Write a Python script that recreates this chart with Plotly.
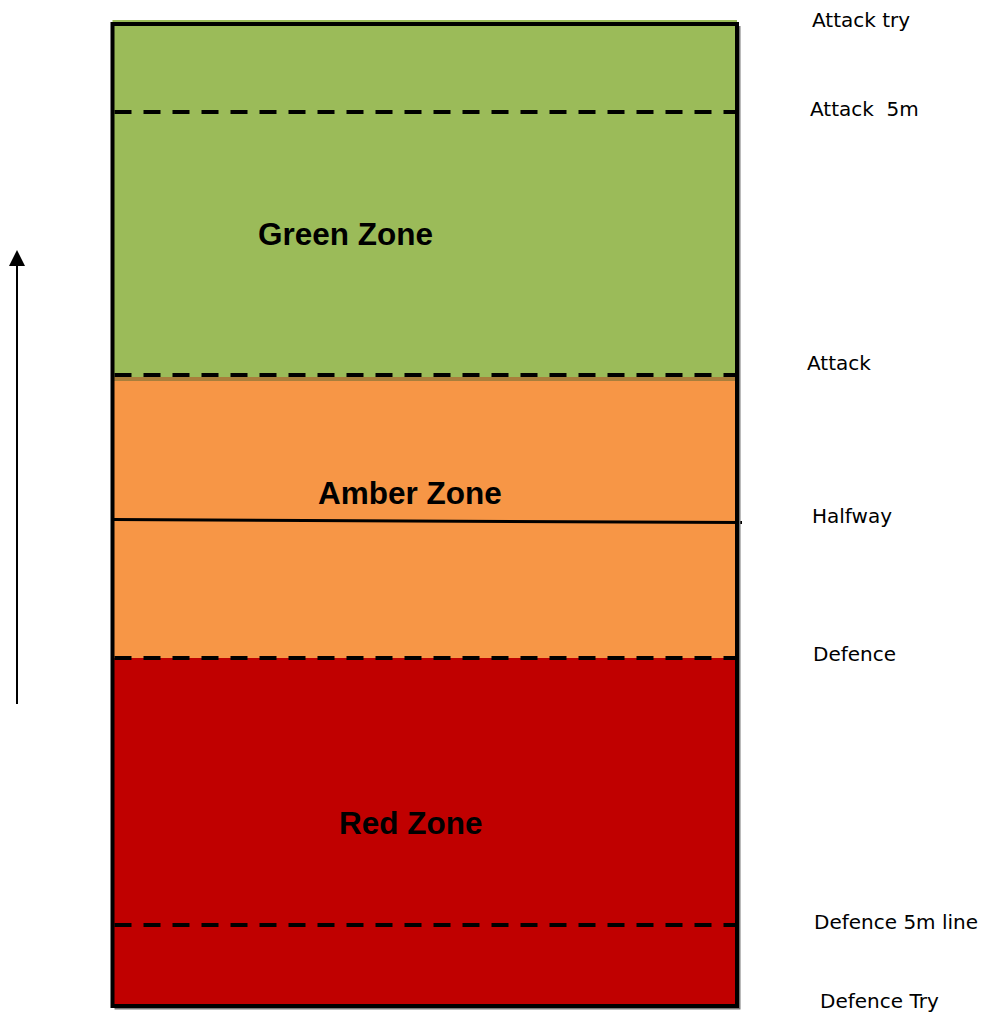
import plotly.graph_objects as go

# ---- data (schematic field positions, diagram units measured up from the defence try line) ----
line_names = ["Defence Try", "Defence 5m line", "Defence", "Halfway", "Attack", "Attack  5m", "Attack try"]
line_pos = [0, 81, 348, 485, 631, 894, 982]
line_style = ["solid", "dash", "dash", "solid", "dash", "dash", "solid"]

zone_names = ["Red Zone", "Amber Zone", "Green Zone"]
zone_bottom = [0, 348, 625]
zone_top = [348, 629, 986]
zone_colors = ["#C00000", "#F79646", "#9BBB59"]

# ---- layout constants ----
PAGE_MARGIN = 8                # default body margin of the html page
W, H = 987 - PAGE_MARGIN, 1015 - PAGE_MARGIN
FX0, FX1 = 112.5, 737          # field side lines
label_x = [818, 812, 811, 810, 805, 808, 810]
label_shift = [5, 3, 4, 5, 12, 3, 4]
zone_label_x = [411, 410, 345]
zone_label_y = [183, 513, 772]
arrow_x, arrow_from, arrow_to = 17, 302, 756
head_w, head_h = 16, 16

fig = go.Figure()
shapes = []

# zone fills
for b, t, c in zip(zone_bottom, zone_top, zone_colors):
    shapes.append(dict(type="rect", xref="x", yref="y", x0=FX0, x1=FX1, y0=b, y1=t,
                       fillcolor=c, line=dict(width=0), layer="below"))
# overlap strip between green and amber
shapes.append(dict(type="line", xref="x", yref="y", x0=FX0, x1=FX1,
                   y0=(zone_bottom[2] + zone_top[1]) / 2, y1=(zone_bottom[2] + zone_top[1]) / 2,
                   line=dict(color="#A97E3B", width=4)))

# field lines
for name, p, st in zip(line_names, line_pos, line_style):
    if st == "dash":
        shapes.append(dict(type="line", xref="x", yref="y", x0=FX0 + 2, x1=FX1 - 1, y0=p, y1=p,
                           line=dict(color="black", width=4, dash="17px,12px")))
    elif name == "Halfway":
        shapes.append(dict(type="line", xref="x", yref="y", x0=FX0, x1=FX1 + 5, y0=p + 1.5, y1=p - 1.5,
                           line=dict(color="black", width=3)))

# shadow (right and bottom) + border
shapes.append(dict(type="path", xref="x", yref="y",
                   path=f"M {FX1 + 2},{line_pos[-1] - 2} L {FX1 + 2},{line_pos[0] - 2} L {FX0 + 2},{line_pos[0] - 2}",
                   line=dict(color="#777777", width=3)))
shapes.append(dict(type="rect", xref="x", yref="y", x0=FX0, x1=FX1,
                   y0=line_pos[0], y1=line_pos[-1],
                   line=dict(color="black", width=4)))

# arrow shaft + head
shapes.append(dict(type="line", xref="x", yref="y", x0=arrow_x, x1=arrow_x,
                   y0=arrow_from, y1=arrow_to - head_h + 1, line=dict(color="black", width=2)))
shapes.append(dict(type="path", xref="x", yref="y",
                   path=f"M {arrow_x - head_w/2},{arrow_to - head_h} L {arrow_x + head_w/2},{arrow_to - head_h} L {arrow_x},{arrow_to} Z",
                   fillcolor="black", line=dict(color="black", width=0)))

annotations = []
for name, p, lx, sh in zip(line_names, line_pos, label_x, label_shift):
    annotations.append(dict(x=lx, y=p, xref="x", yref="y", text=name, showarrow=False,
                            xanchor="left", yanchor="middle", yshift=sh,
                            font=dict(family="DejaVu Sans", size=20, color="black")))
for name, zx, zy in zip(zone_names, zone_label_x, zone_label_y):
    annotations.append(dict(x=zx, y=zy, xref="x", yref="y", text=f"<b>{name}</b>", showarrow=False,
                            xanchor="center", yanchor="middle",
                            font=dict(family="Liberation Sans, Arial", size=31.5, color="black")))

fig.update_layout(
    width=W, height=H, margin=dict(l=0, r=0, t=0, b=0),
    paper_bgcolor="white", plot_bgcolor="white",
    xaxis=dict(range=[PAGE_MARGIN, PAGE_MARGIN + W], visible=False, fixedrange=True),
    yaxis=dict(range=[line_pos[-1] + 24 - 1015, line_pos[-1] + 24 - PAGE_MARGIN],
               visible=False, fixedrange=True),
    shapes=shapes, annotations=annotations, showlegend=False,
)
fig.write_html("out.html")
